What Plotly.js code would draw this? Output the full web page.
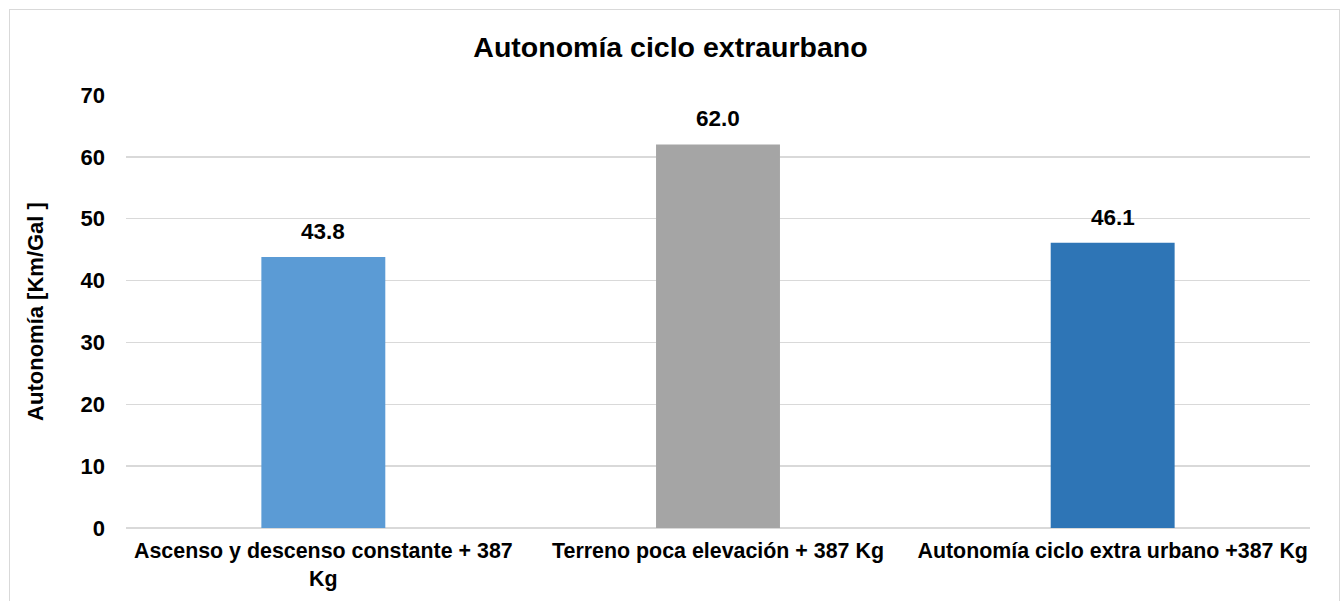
<!DOCTYPE html>
<html><head><meta charset="utf-8">
<script src="https://cdn.plot.ly/plotly-3.0.1.min.js"></script>
<style>
html,body{margin:0;padding:0;background:#fff;overflow:hidden}
#wrap{position:relative;width:1341px;height:601px}
#chart{position:absolute;left:0;top:0;width:1341px;height:601px}
#frame{position:absolute;left:9px;top:9px;width:1331px;height:600px;border:1px solid #d9d9d9;box-sizing:border-box;pointer-events:none}
</style></head>
<body><div id="wrap"><div id="chart"></div><div id="frame"></div></div>
<script>
const categories = ["Ascenso y descenso constante + 387<br>Kg", "Terreno poca elevación + 387 Kg", "Autonomía ciclo extra urbano +387 Kg"];
const values = [43.8, 62.0, 46.1];
const barColors = ["#5B9BD5", "#A5A5A5", "#2E75B6"];
const yTicks = [0, 10, 20, 30, 40, 50, 60, 70];

const FONT = 'Liberation Sans, Arial, sans-serif';

const trace = {
  type: 'bar',
  x: categories,
  y: values,
  marker: {color: barColors},
  hoverinfo: 'none'
};

const annotations = categories.map((c, i) => ({
  x: c, y: values[i], xref: 'x', yref: 'y',
  text: values[i].toFixed(1),
  showarrow: false, xanchor: 'center', yanchor: 'bottom', yshift: 11,
  font: {family: FONT, size: 22.5, color: '#000', weight: 'bold'}
}));

const layout = {
  width: 1341, height: 601,
  margin: {l: 126, r: 31, t: 95, b: 73},
  paper_bgcolor: '#fff', plot_bgcolor: '#fff',
  bargap: 0.686,
  showlegend: false,
  annotations: annotations,
  title: {text: 'Autonomía ciclo extraurbano', x: 0.5, xanchor: 'center', y: 0.922, yanchor: 'middle',
    font: {family: FONT, size: 28.5, color: '#000', weight: 'bold'}},
  xaxis: {
    type: 'category',
    tickfont: {family: FONT, size: 21.4, color: '#000', weight: 'bold'},
    showline: false, ticks: '', showgrid: false, zeroline: false,
    ticklabelstandoff: 8
  },
  yaxis: {
    range: [0, 70],
    tickvals: yTicks,
    ticktext: yTicks.map(String),
    showgrid: true, gridcolor: '#d9d9d9', gridwidth: 1.3,
    zeroline: true, zerolinecolor: '#d9d9d9', zerolinewidth: 2,
    showline: false, ticks: '',
    ticklabelstandoff: 20,
    tickfont: {family: FONT, size: 22, color: '#000', weight: 'bold'},
    title: {text: 'Autonomía [Km/Gal ]', standoff: 30,
      font: {family: FONT, size: 22, color: '#000', weight: 'bold'}}
  }
};

Plotly.newPlot('chart', [trace], layout, {displayModeBar: false, staticPlot: true});
</script></body></html>
